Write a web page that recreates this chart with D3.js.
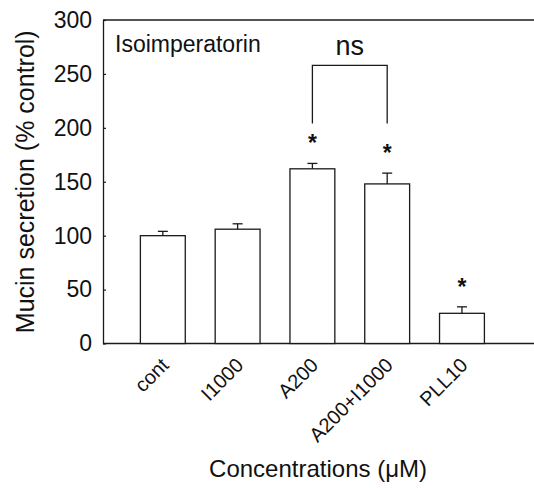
<!DOCTYPE html>
<html>
<head>
<meta charset="utf-8">
<script src="https://cdn.jsdelivr.net/npm/d3@7"></script>
<style>
  body { margin: 0; background: #fff; }
  svg { display: block; font-family: "Liberation Sans", Arial, sans-serif; }
</style>
</head>
<body>
<svg id="chart" width="534" height="488"></svg>
<script>
const categories = ['cont', 'I1000', 'A200', 'A200+I1000', 'PLL10'];
const means = [100, 106, 162, 148, 28];
const sems = [4, 5, 5, 10, 6];
const starred = [false, false, true, true, true];
const yTicks = [0, 50, 100, 150, 200, 250, 300];
// ns comparison between A200 and A200+I1000
const nsPair = ['A200', 'A200+I1000'];
const nsTop = 258;
const nsLeg = 204;

const data = categories.map((c, i) => ({ cat: c, mean: means[i], sem: sems[i], star: starred[i] }));

const width = 534;
const height = 488;
const mLeft = 103, mTop = 20, mBottom = 343.5;

const svg = d3.select('#chart');

const x = d3.scaleBand()
  .domain(categories)
  .range([mLeft, 521.8])
  .paddingInner(0.4)
  .paddingOuter(0.5);

const y = d3.scaleLinear()
  .domain([0, 300])
  .range([mBottom, mTop]);

const ink = '#1a1a1a';

// frame lines (top and bottom run to the edge, no right border)
svg.append('line')
  .attr('x1', mLeft).attr('x2', width)
  .attr('y1', y(300)).attr('y2', y(300))
  .attr('stroke', ink).attr('stroke-width', 1.3);
svg.append('line')
  .attr('x1', mLeft).attr('x2', width)
  .attr('y1', y(0)).attr('y2', y(0))
  .attr('stroke', ink).attr('stroke-width', 1.3);

// y axis
const yAxis = svg.append('g')
  .attr('transform', `translate(${mLeft},0)`)
  .call(d3.axisLeft(y).tickValues(yTicks).tickSizeInner(-3).tickSizeOuter(0).tickPadding(11));
yAxis.select('.domain').attr('stroke', ink).attr('stroke-width', 1.3);
yAxis.selectAll('.tick line').attr('stroke', ink).attr('stroke-width', 1.2);
yAxis.selectAll('.tick text')
  .attr('font-size', 23)
  .attr('fill', '#111')
  .attr('font-family', '"Liberation Sans", Arial, sans-serif');

// bars
svg.append('g')
  .selectAll('rect')
  .data(data)
  .join('rect')
  .attr('x', d => x(d.cat))
  .attr('y', d => y(d.mean))
  .attr('width', x.bandwidth())
  .attr('height', d => y(0) - y(d.mean))
  .attr('fill', '#fff')
  .attr('stroke', ink)
  .attr('stroke-width', 1.3);

// error bars
const err = svg.append('g').attr('stroke', ink).attr('stroke-width', 1.3);
err.selectAll('line.v')
  .data(data)
  .join('line')
  .attr('class', 'v')
  .attr('x1', d => x(d.cat) + x.bandwidth() / 2)
  .attr('x2', d => x(d.cat) + x.bandwidth() / 2)
  .attr('y1', d => y(d.mean))
  .attr('y2', d => y(d.mean + d.sem));
err.selectAll('line.cap')
  .data(data)
  .join('line')
  .attr('class', 'cap')
  .attr('x1', d => x(d.cat) + x.bandwidth() / 2 - 5)
  .attr('x2', d => x(d.cat) + x.bandwidth() / 2 + 5)
  .attr('y1', d => y(d.mean + d.sem))
  .attr('y2', d => y(d.mean + d.sem));

// stars
svg.append('g')
  .selectAll('text')
  .data(data.filter(d => d.star))
  .join('text')
  .attr('x', d => x(d.cat) + x.bandwidth() / 2)
  .attr('y', d => y(d.mean + d.sem) - 12)
  .attr('text-anchor', 'middle')
  .attr('font-size', 23)
  .attr('font-weight', 'bold')
  .attr('fill', '#111')
  .text('*');

// ns bracket
const bx1 = x(nsPair[0]) + x.bandwidth() / 2;
const bx2 = x(nsPair[1]) + x.bandwidth() / 2;
svg.append('path')
  .attr('d', `M${bx1},${y(nsLeg)}V${y(nsTop)}H${bx2}V${y(nsLeg)}`)
  .attr('fill', 'none')
  .attr('stroke', ink)
  .attr('stroke-width', 1.3);
svg.append('text')
  .attr('x', (bx1 + bx2) / 2)
  .attr('y', y(nsTop) - 10)
  .attr('text-anchor', 'middle')
  .attr('font-size', 27)
  .attr('fill', '#111')
  .text('ns');

// x labels, rotated
svg.append('g')
  .selectAll('text')
  .data(categories)
  .join('text')
  .attr('transform', d => `translate(${x(d) + x.bandwidth() / 2 + 7},${y(0) + 23}) rotate(-45)`)
  .attr('text-anchor', 'end')
  .attr('font-size', 20)
  .attr('fill', '#111')
  .text(d => d);

// panel label
svg.append('text')
  .attr('x', 115)
  .attr('y', 52)
  .attr('font-size', 23)
  .attr('fill', '#111')
  .text('Isoimperatorin');

// axis titles
svg.append('text')
  .attr('transform', `translate(34,${(mTop + mBottom) / 2}) rotate(-90)`)
  .attr('text-anchor', 'middle')
  .attr('font-size', 25)
  .attr('fill', '#111')
  .text('Mucin secretion (% control)');

svg.append('text')
  .attr('x', 318)
  .attr('y', 477)
  .attr('text-anchor', 'middle')
  .attr('font-size', 24)
  .attr('fill', '#111')
  .text('Concentrations (\u03BCM)');
</script>
</body>
</html>
